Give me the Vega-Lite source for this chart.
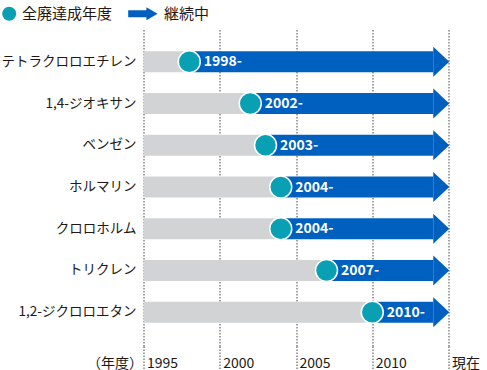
{
  "$schema": "https://vega.github.io/schema/vega-lite/v6.json",
  "autosize": {"type": "none"},
  "padding": {"left": 143.5, "top": 28, "right": 38.5, "bottom": 24},
  "width": 305,
  "height": 318,
  "config": {
    "view": {"stroke": null},
    "font": "Noto Sans CJK JP",
    "axis": {"labelFont": "Noto Sans CJK JP", "titleFont": "Noto Sans CJK JP"}
  },
  "data": {
    "values": [
      {"name": "テトラクロロエチレン", "from": 1995, "year": 1998, "to": 2014, "label": "1998-"},
      {"name": "1,4-ジオキサン", "from": 1995, "year": 2002, "to": 2014, "label": "2002-"},
      {"name": "ベンゼン", "from": 1995, "year": 2003, "to": 2014, "label": "2003-"},
      {"name": "ホルマリン", "from": 1995, "year": 2004, "to": 2014, "label": "2004-"},
      {"name": "クロロホルム", "from": 1995, "year": 2004, "to": 2014, "label": "2004-"},
      {"name": "トリクレン", "from": 1995, "year": 2007, "to": 2014, "label": "2007-"},
      {"name": "1,2-ジクロロエタン", "from": 1995, "year": 2010, "to": 2014, "label": "2010-"}
    ]
  },
  "encoding": {
    "y": {
      "field": "name",
      "type": "nominal",
      "sort": null,
      "scale": {"paddingInner": 0, "paddingOuter": 0.31},
      "axis": {
        "title": null,
        "domain": false,
        "ticks": false,
        "labelPadding": 7.5,
        "labelFontSize": 13.5,
        "labelColor": "#231815"
      }
    }
  },
  "layer": [
    {
      "mark": {"type": "bar", "size": 21, "color": "#d1d3d5"},
      "encoding": {
        "x": {
          "field": "from",
          "type": "quantitative",
          "scale": {"domain": [1995, 2015], "nice": false, "zero": false},
          "axis": {
            "values": [1995, 2000, 2005, 2010, 2015],
            "labelExpr": "datum.value === 2015 ? '現在' : '' + datum.value",
            "labelAlign": "left",
            "labelBaseline": "middle",
            "labelOffset": 3,
            "labelPadding": -8,
            "labelFlush": false,
            "labelOverlap": false,
            "labelFontSize": 14,
            "labelColor": "#231815",
            "domain": false,
            "grid": true,
            "gridDash": [1.5, 1.5],
            "gridColor": "#444444",
            "gridWidth": 1,
            "ticks": true,
            "tickSize": 25,
            "tickDash": [1.5, 1.5],
            "tickColor": "#444444",
            "tickWidth": 1,
            "title": "（年度）",
            "titleX": -1,
            "titleY": 17,
            "titleAlign": "right",
            "titleAnchor": "start",
            "titleBaseline": "middle",
            "titleFontSize": 14,
            "titleFontWeight": "normal",
            "titleColor": "#231815"
          }
        },
        "x2": {"field": "year"}
      }
    },
    {
      "mark": {"type": "bar", "size": 21},
      "encoding": {
        "x": {"field": "year", "type": "quantitative"},
        "x2": {"field": "to"},
        "color": {
          "datum": "継続中",
          "type": "nominal",
          "scale": {"domain": ["全廃達成年度", "継続中"], "range": ["#0aa0b4", "#0060c0"]},
          "legend": {
            "orient": "none",
            "legendX": -141.8,
            "legendY": -22,
            "direction": "horizontal",
            "title": null,
            "padding": 0,
            "labelFont": "Noto Sans CJK JP",
            "labelFontSize": 15,
            "labelColor": "#231815",
            "labelOffset": 5.3,
            "symbolSize": 196,
            "columnPadding": 15,
            "symbolStrokeWidth": 0,
            "symbolOpacity": 1,
            "encode": {
              "symbols": {
                "update": {
                  "shape": {"signal": "datum.value === '継続中' ? 'M-2,-0.5L0.6,-0.5L0.6,-0.93L2.2,0L0.6,0.93L0.6,0.5L-2,0.5Z' : 'circle'"},
                  "fill": {"signal": "datum.value === '継続中' ? '#0060c0' : '#0aa0b4'"},
                  "strokeWidth": {"value": 0},
                  "opacity": {"value": 1}
                }
              },
              "labels": {
                "update": {
                  "dx": {"signal": "datum.value === '継続中' ? 9 : 0"}
                }
              }
            }
          }
        }
      }
    },
    {
      "mark": {"type": "point", "filled": true, "opacity": 1, "size": 900, "shape": "M0,-1L1.07,0L0,1Z", "strokeWidth": 0},
      "encoding": {
        "x": {"field": "to", "type": "quantitative"},
        "color": {"datum": "継続中", "type": "nominal"}
      }
    },
    {
      "mark": {"type": "text", "align": "left", "baseline": "middle", "dx": 14.5, "dy": 0.5, "color": "white", "fontWeight": "bold", "fontSize": 14, "font": "Noto Sans CJK JP"},
      "encoding": {
        "x": {"field": "year", "type": "quantitative"},
        "text": {"field": "label"}
      }
    },
    {
      "mark": {"type": "point", "filled": true, "opacity": 1, "size": 484, "shape": "circle", "stroke": "white", "strokeWidth": 1.5},
      "encoding": {
        "x": {"field": "year", "type": "quantitative"},
        "color": {"datum": "全廃達成年度", "type": "nominal"}
      }
    }
  ]
}
